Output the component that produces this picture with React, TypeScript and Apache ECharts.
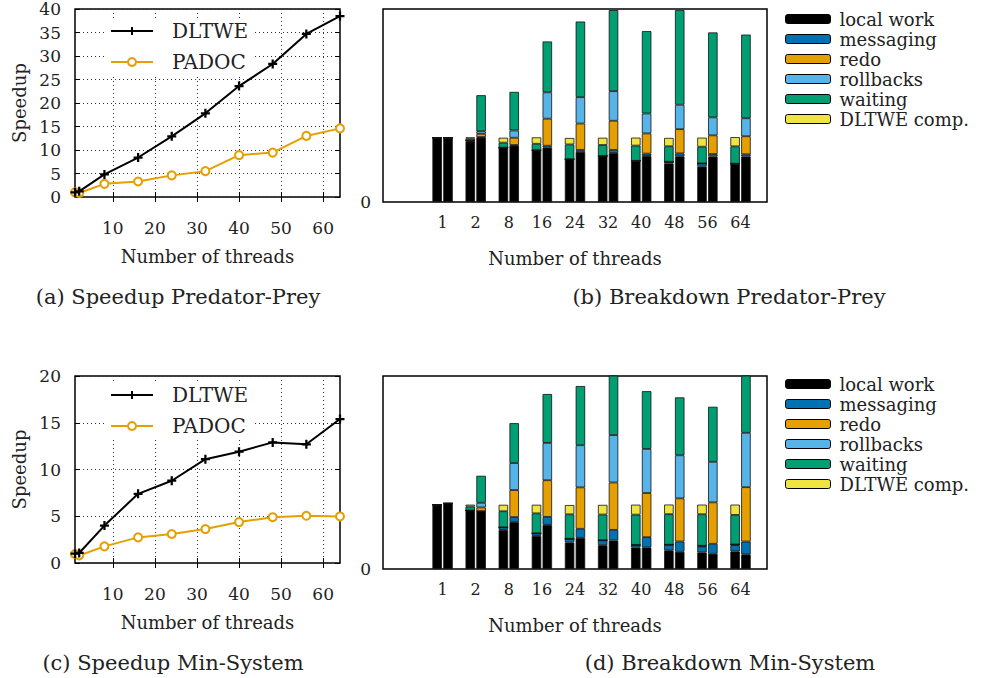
import React, { useEffect, useRef } from 'react';
import * as echarts from 'echarts';

// ---------- data ----------
const threadCounts = [1, 2, 8, 16, 24, 32, 40, 48, 56, 64];
const threadLabels = ['1', '2', '8', '16', '24', '32', '40', '48', '56', '64'];
const speedupTicks = [10, 20, 30, 40, 50, 60];

// (a) speedup Predator-Prey
const ppDltwe = [1.0, 1.2, 4.8, 8.4, 12.9, 17.8, 23.6, 28.3, 34.7, 38.5];
const ppPadoc = [1.0, 0.85, 2.8, 3.3, 4.6, 5.5, 8.9, 9.45, 13.0, 14.6];
// (c) speedup Min-System
const msDltwe = [1.0, 1.07, 4.0, 7.4, 8.8, 11.1, 11.9, 12.9, 12.7, 15.4];
const msPadoc = [0.96, 0.8, 1.78, 2.74, 3.1, 3.63, 4.38, 4.9, 5.05, 4.98];

const componentNames = ['local work', 'messaging', 'redo', 'rollbacks', 'waiting', 'DLTWE comp.'];
const componentColors = ['#000000', '#0072B2', '#E69F00', '#56B4E9', '#009E73', '#F0E442'];

// (b) breakdown Predator-Prey — DLTWE (left bar of each pair)
const ppLeftLocal = [1.0, 0.94, 0.845, 0.8, 0.665, 0.716, 0.64, 0.6, 0.55, 0.59];
const ppLeftMsg = [0, 0.01, 0, 0.005, 0, 0, 0, 0.026, 0.05, 0.005];
const ppLeftRedo = [0, 0.005, 0, 0, 0, 0, 0, 0, 0, 0];
const ppLeftRoll = [0, 0, 0, 0, 0, 0, 0, 0, 0, 0];
const ppLeftWait = [0, 0.03, 0.077, 0.1, 0.23, 0.17, 0.237, 0.24, 0.26, 0.27];
const ppLeftComp = [0, 0.02, 0.077, 0.1, 0.1, 0.113, 0.124, 0.13, 0.14, 0.144];
// PADOC (right bar)
const ppRightLocal = [1.0, 1.0, 0.876, 0.845, 0.78, 0.763, 0.716, 0.71, 0.706, 0.706];
const ppRightMsg = [0, 0.01, 0.01, 0.03, 0.03, 0.046, 0.036, 0.046, 0.04, 0.036];
const ppRightRedo = [0, 0.05, 0.113, 0.42, 0.41, 0.454, 0.314, 0.376, 0.29, 0.28];
const ppRightRoll = [0, 0.04, 0.113, 0.41, 0.41, 0.46, 0.31, 0.38, 0.28, 0.28];
const ppRightWait = [0, 0.56, 0.6, 0.79, 1.175, 1.26, 1.28, 1.47, 1.32, 1.3];

// (d) breakdown Min-System — DLTWE (left)
const msLeftLocal = [1.0, 0.91, 0.608, 0.515, 0.41, 0.37, 0.335, 0.29, 0.258, 0.273];
const msLeftMsg = [0, 0, 0.04, 0.04, 0.06, 0.077, 0.04, 0.088, 0.093, 0.098];
const msLeftRedo = [0, 0, 0, 0, 0, 0, 0, 0, 0.01, 0.01];
const msLeftRoll = [0, 0, 0, 0, 0, 0, 0, 0, 0, 0];
const msLeftWait = [0, 0.06, 0.25, 0.31, 0.38, 0.4, 0.47, 0.474, 0.49, 0.46];
const msLeftComp = [0, 0.03, 0.1, 0.134, 0.144, 0.15, 0.155, 0.15, 0.15, 0.16];
// PADOC (right)
const msRightLocal = [1.02, 0.9, 0.73, 0.686, 0.485, 0.443, 0.335, 0.268, 0.237, 0.227];
const msRightMsg = [0, 0, 0.077, 0.124, 0.14, 0.165, 0.16, 0.16, 0.155, 0.2];
const msRightRedo = [0, 0.057, 0.42, 0.57, 0.644, 0.737, 0.686, 0.67, 0.644, 0.845];
const msRightRoll = [0, 0.072, 0.42, 0.58, 0.655, 0.737, 0.686, 0.67, 0.63, 0.845];
const msRightWait = [0, 0.42, 0.62, 0.76, 0.92, 0.95, 0.897, 0.9, 0.856, 0.95];

const captions = [
  { text: '(a) Speedup Predator-Prey', x: 178, y: 297 },
  { text: '(b) Breakdown Predator-Prey', x: 729, y: 297 },
  { text: '(c) Speedup Min-System', x: 173, y: 663 },
  { text: '(d) Breakdown Min-System', x: 730, y: 663 },
];

// ---------- styling ----------
const serif = '"DejaVu Serif", serif';
const plusPath = 'path://M3,0 H5 V3 H8 V5 H5 V8 H3 V5 H0 V3 H3 Z';

function buildOption() {
  const grids = [
    { left: 75, top: 9, width: 265, height: 188 },
    { left: 383, top: 9, width: 384, height: 193 },
    { left: 75, top: 376, width: 265, height: 187 },
    { left: 383, top: 376, width: 384, height: 193 },
  ].map((g) => ({ ...g, show: true, borderColor: '#000', borderWidth: 1.5, backgroundColor: 'transparent', containLabel: false }));

  const lineX = (gridIndex: number) => ({
    type: 'value', gridIndex, min: 1, max: 64, position: 'bottom',
    name: 'Number of threads', nameLocation: 'middle', nameGap: 50,
    nameTextStyle: { fontFamily: serif, fontSize: 18, color: '#222' },
    axisLine: { show: false },
    axisTick: { show: true, inside: true, length: 5, customValues: speedupTicks, lineStyle: { color: '#000' } },
    axisLabel: { customValues: speedupTicks, margin: 22, fontFamily: serif, fontSize: 17, color: '#222' },
    splitLine: { show: true, lineStyle: { type: [1, 3], color: '#333', width: 1 } },
  });
  const lineXMirror = (gridIndex: number) => ({
    type: 'value', gridIndex, min: 1, max: 64, position: 'top',
    axisLine: { show: false },
    axisTick: { show: true, inside: true, length: 5, customValues: speedupTicks, lineStyle: { color: '#000' } },
    axisLabel: { show: false },
    splitLine: { show: false },
  });
  const lineY = (gridIndex: number, max: number) => ({
    type: 'value', gridIndex, min: 0, max, interval: 5, position: 'left',
    name: 'Speedup', nameLocation: 'middle', nameGap: 47, nameRotate: 90,
    nameTextStyle: { fontFamily: serif, fontSize: 18, color: '#222' },
    axisLine: { show: false },
    axisTick: { show: true, inside: true, length: 5, lineStyle: { color: '#000' } },
    axisLabel: { margin: 14, fontFamily: serif, fontSize: 17, color: '#222' },
    splitLine: { show: true, lineStyle: { type: [1, 3], color: '#333', width: 1 } },
  });
  const lineYMirror = (gridIndex: number, max: number) => ({
    type: 'value', gridIndex, min: 0, max, interval: 5, position: 'right',
    axisLine: { show: false },
    axisTick: { show: true, inside: true, length: 5, lineStyle: { color: '#000' } },
    axisLabel: { show: false },
    splitLine: { show: false },
  });
  const barX = (gridIndex: number) => ({
    type: 'value', gridIndex, min: -1.8, max: 9.8, position: 'bottom',
    name: 'Number of threads', nameLocation: 'middle', nameGap: 47,
    nameTextStyle: { fontFamily: serif, fontSize: 18, color: '#222' },
    axisLine: { show: false },
    axisTick: { show: false },
    axisLabel: {
      customValues: threadLabels.map((_, i) => i),
      formatter: (v: number) => threadLabels[Math.round(v)] ?? '',
      margin: 12, fontFamily: serif, fontSize: 16, color: '#222',
    },
    splitLine: { show: false },
  });
  const barY = (gridIndex: number) => ({
    type: 'value', gridIndex, min: 0, max: 3, position: 'left',
    axisLine: { show: false },
    axisTick: { show: false },
    axisLabel: { customValues: [0], margin: 12, fontFamily: serif, fontSize: 17, color: '#222' },
    splitLine: { show: false },
  });

  const xAxis = [lineX(0), lineXMirror(0), barX(1), lineX(2), lineXMirror(2), barX(3)];
  const yAxis = [lineY(0, 40), lineYMirror(0, 40), barY(1), lineY(2, 20), lineYMirror(2, 20), barY(3)];

  const lineSeries = (axis: number, dltwe: number[], padoc: number[]) => [
    {
      type: 'line', name: 'DLTWE', xAxisIndex: axis, yAxisIndex: axis,
      data: threadCounts.map((t, i) => [t, dltwe[i]]),
      symbol: plusPath, symbolSize: 9, showAllSymbol: true,
      lineStyle: { color: '#000', width: 2 }, itemStyle: { color: '#000' },
      z: 4,
    },
    {
      type: 'line', name: 'PADOC', xAxisIndex: axis, yAxisIndex: axis,
      data: threadCounts.map((t, i) => [t, padoc[i]]),
      symbol: 'emptyCircle', symbolSize: 8, showAllSymbol: true,
      lineStyle: { color: '#E69F00', width: 2 },
      itemStyle: { color: '#E69F00', borderWidth: 2 },
      z: 3,
    },
  ];

  // data items are [value, categoryIndex]; encode maps them so the value is stacked
  const makeBar = (axis: number, stack: string, k: number, vals: number[]) => ({
    type: 'bar', name: componentNames[k], xAxisIndex: axis, yAxisIndex: axis,
    stack, barWidth: 9.5, barGap: '14%',
    encode: { x: 1, y: 0 },
    data: vals.map((v, i) => [v, i]),
    itemStyle: { color: componentColors[k], borderColor: '#111', borderWidth: 0.8 },
  });
  const barSeries = (axis: number, left: number[][], right: number[][]) => [
    ...left.map((vals, k) => makeBar(axis, 'dltwe' + axis, k, vals)),
    ...right.map((vals, k) => makeBar(axis, 'padoc' + axis, k, vals)),
  ];

  const series = [
    ...lineSeries(0, ppDltwe, ppPadoc),
    ...barSeries(2,
      [ppLeftLocal, ppLeftMsg, ppLeftRedo, ppLeftRoll, ppLeftWait, ppLeftComp],
      [ppRightLocal, ppRightMsg, ppRightRedo, ppRightRoll, ppRightWait]),
    ...lineSeries(3, msDltwe, msPadoc),
    ...barSeries(5,
      [msLeftLocal, msLeftMsg, msLeftRedo, msLeftRoll, msLeftWait, msLeftComp],
      [msRightLocal, msRightMsg, msRightRedo, msRightRoll, msRightWait]),
  ];

  const lineLegend = (top: number) => ({
    data: ['DLTWE', 'PADOC'], orient: 'vertical', left: 106, top,
    itemWidth: 42, itemHeight: 10, itemGap: 11, selectedMode: false,
    backgroundColor: '#fff', padding: [2, 4, 2, 4],
    textStyle: { fontFamily: serif, fontSize: 20, color: '#222', padding: [0, 0, 0, 14] },
  });
  const barLegend = (top: number) => ({
    data: componentNames, orient: 'vertical', left: 780, top,
    itemWidth: 45, itemHeight: 9, itemGap: 2, selectedMode: false,
    itemStyle: { borderColor: '#000', borderWidth: 1 },
    textStyle: { fontFamily: serif, fontSize: 18, color: '#222', padding: [0, 0, 0, 4] },
  });

  return {
    animation: false,
    backgroundColor: '#fff',
    grid: grids,
    xAxis,
    yAxis,
    series,
    legend: [lineLegend(19), barLegend(5), lineLegend(383), barLegend(370)],
    graphic: captions.map((c) => ({
      type: 'text', x: c.x, y: c.y,
      style: { text: c.text, fontFamily: serif, fontSize: 21, fill: '#222', textAlign: 'center', textVerticalAlign: 'middle' },
    })),
  };
}

export default function App() {
  const ref = useRef<HTMLDivElement>(null);
  useEffect(() => {
    document.body.style.margin = '0';
    if (!ref.current) return;
    const chart = echarts.init(ref.current, null, { renderer: 'svg' });
    chart.setOption(buildOption() as any);
    return () => chart.dispose();
  }, []);
  return <div ref={ref} style={{ width: 982, height: 678 }} />;
}
